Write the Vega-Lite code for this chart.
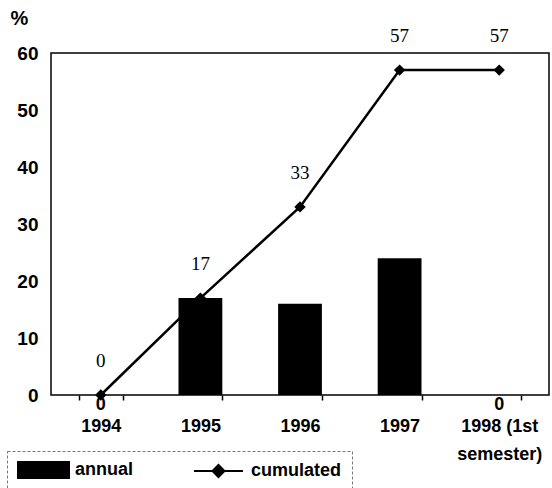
{
  "$schema": "https://vega.github.io/schema/vega-lite/v6.json",
  "width": 498,
  "height": 342,
  "autosize": {"type": "none"},
  "padding": {"left": 51, "top": 53, "right": 3, "bottom": 93},
  "background": "white",
  "config": {
    "view": {"stroke": "black", "strokeWidth": 1.5},
    "font": "Liberation Sans"
  },
  "data": {
    "values": [
      {"year": "1994", "series": "annual", "value": 0},
      {"year": "1995", "series": "annual", "value": 17},
      {"year": "1996", "series": "annual", "value": 16},
      {"year": "1997", "series": "annual", "value": 24},
      {"year": "1998 (1st semester)", "series": "annual", "value": 0},
      {"year": "1994", "series": "cumulated", "value": 0},
      {"year": "1995", "series": "cumulated", "value": 17},
      {"year": "1996", "series": "cumulated", "value": 33},
      {"year": "1997", "series": "cumulated", "value": 57},
      {"year": "1998 (1st semester)", "series": "cumulated", "value": 57}
    ]
  },
  "encoding": {
    "x": {
      "field": "year",
      "type": "nominal",
      "sort": null,
      "scale": {"paddingInner": 0.56, "paddingOuter": 0.28},
      "axis": {
        "title": null,
        "labelAngle": 0,
        "labelFontSize": 18,
        "labelFontWeight": "bold",
        "labelColor": "black",
        "labelPadding": 17,
        "labelLineHeight": 28,
        "labelExpr": "datum.value == '1998 (1st semester)' ? ['1998 (1st', 'semester)'] : datum.label",
        "ticks": true,
        "tickBand": "extent",
        "tickSize": 5,
        "tickColor": "black",
        "tickWidth": 1.5,
        "domain": false,
        "grid": false
      }
    },
    "y": {
      "field": "value",
      "type": "quantitative",
      "scale": {"domain": [0, 60], "nice": false},
      "axis": {
        "values": [0, 10, 20, 30, 40, 50, 60],
        "ticks": false,
        "domain": false,
        "grid": false,
        "labelFontSize": 19,
        "labelFontWeight": "bold",
        "labelColor": "black",
        "labelPadding": 13,
        "title": "%",
        "titleAngle": 0,
        "titleAlign": "left",
        "titleBaseline": "middle",
        "titleX": -41,
        "titleY": -35,
        "titleFontSize": 20,
        "titleFontWeight": "bold",
        "titleColor": "black"
      }
    }
  },
  "layer": [
    {
      "transform": [{"filter": "datum.series == 'annual'"}],
      "mark": {"type": "bar"},
      "encoding": {
        "color": {
          "field": "series",
          "type": "nominal",
          "scale": {"domain": ["annual", "cumulated"], "range": ["black", "black"]},
          "legend": {
            "title": null,
            "orient": "none",
            "legendX": -44,
            "legendY": 398,
            "direction": "horizontal",
            "padding": 10,
            "symbolSize": 256,
            "labelFontSize": 18,
            "labelFontWeight": "bold",
            "labelColor": "black",
            "labelOffset": 40,
            "columnPadding": 56,
            "strokeColor": "#777",
            "fillColor": "white",
            "encode": {
              "legend": {"update": {"strokeDash": {"value": [3, 2]}}},
              "symbols": {
                "update": {
                  "shape": {"signal": "datum.value == 'annual' ? 'M-1,-1H5.375V1H-1Z' : 'M-1,0H5.125M2.06,-0.75L2.81,0L2.06,0.75L1.31,0Z'"},
                  "fill": {"value": "black"},
                  "stroke": {"value": "black"},
                  "strokeWidth": {"value": 2},
                  "opacity": {"value": 1}
                }
              }
            }
          }
        }
      }
    },
    {
      "transform": [{"filter": "datum.series == 'cumulated'"}],
      "mark": {"type": "line", "strokeWidth": 2.5},
      "encoding": {
        "color": {"field": "series", "type": "nominal"}
      }
    },
    {
      "transform": [{"filter": "datum.series == 'cumulated'"}],
      "mark": {"type": "point", "shape": "diamond", "filled": true, "size": 130, "opacity": 1},
      "encoding": {
        "color": {"field": "series", "type": "nominal"}
      }
    },
    {
      "transform": [{"filter": "datum.series == 'cumulated'"}],
      "mark": {"type": "text", "font": "Liberation Serif", "fontSize": 19, "dy": -34, "baseline": "middle", "color": "black"},
      "encoding": {
        "text": {"field": "value", "type": "quantitative"}
      }
    },
    {
      "transform": [{"filter": "datum.series == 'annual' && datum.value == 0"}],
      "mark": {"type": "text", "fontSize": 18, "fontWeight": "bold", "dy": 10, "baseline": "middle", "color": "black"},
      "encoding": {
        "text": {"field": "value", "type": "quantitative"}
      }
    }
  ]
}
